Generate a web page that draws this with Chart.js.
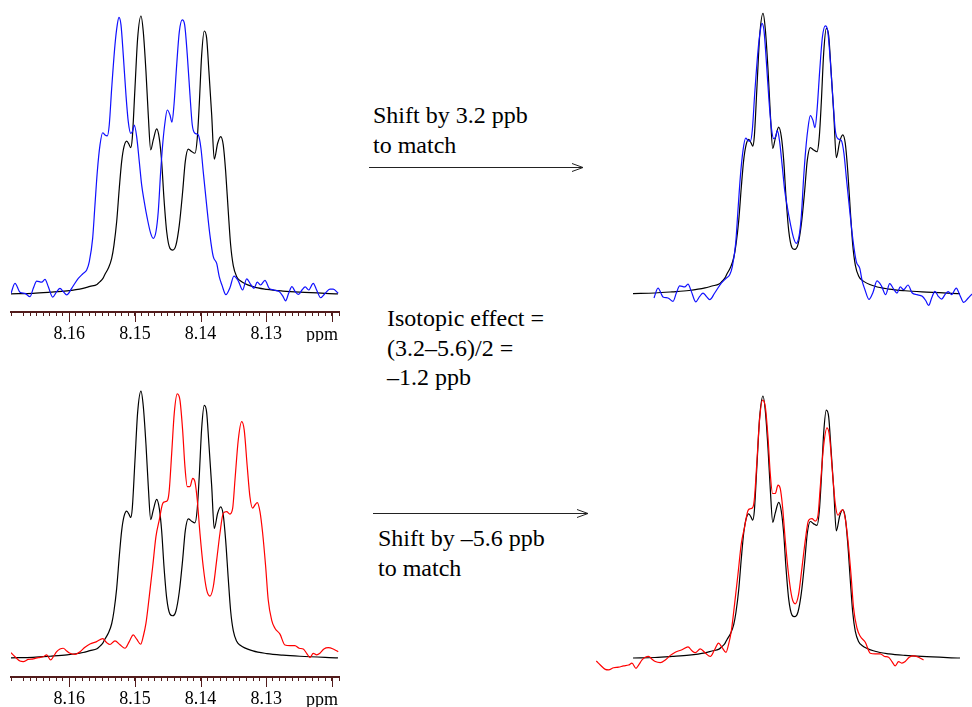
<!DOCTYPE html>
<html>
<head>
<meta charset="utf-8">
<script src="https://cdn.jsdelivr.net/npm/chart.js@4.4.1/dist/chart.umd.min.js"></script>
<style>
  html, body { margin: 0; padding: 0; background: #fff; }
  body { width: 972px; height: 707px; position: relative; overflow: hidden;
         font-family: "Liberation Serif", "Times New Roman", serif; }
  canvas { position: absolute; }
  .note { position: absolute; font-size: 24px; line-height: 29.5px; color: #000; white-space: nowrap; }
  svg { position: absolute; left: 0; top: 0; }
</style>
</head>
<body>

<canvas id="topLeft" width="350" height="342" style="left:0;top:0"></canvas>
<canvas id="bottomLeft" width="350" height="337" style="left:0;top:370px"></canvas>
<canvas id="topRight" width="382" height="310" style="left:590px;top:0"></canvas>
<canvas id="bottomRight" width="382" height="337" style="left:590px;top:370px"></canvas>

<div class="note" style="left:373px;top:101px">Shift by 3.2 ppb<br>to match</div>
<div class="note" style="left:387px;top:304px">Isotopic effect =<br>(3.2–5.6)/2 =<br>–1.2 ppb</div>
<div class="note" style="left:378px;top:524px">Shift by –5.6 ppb<br>to match</div>

<svg width="972" height="707">
  <g stroke="#222" stroke-width="1" fill="none">
    <line x1="369" y1="167.5" x2="583" y2="167.5"/>
    <polyline points="572,163.5 583,167.5 572,171.5"/>
    <line x1="373" y1="513.5" x2="588" y2="513.5"/>
    <polyline points="577,509.5 588,513.5 577,517.5"/>
  </g>
</svg>

<script>
// ---- spectra (ppm, intensity with tallest black peak = 100) ----

// reference spectrum (black)
const blackPpm = [
  8.16890, 8.16555, 8.16296, 8.16036, 8.15792, 8.15686, 8.15579, 8.15533, 8.15488, 8.15457,
  8.15407, 8.15355, 8.15320, 8.15279, 8.15239, 8.15203, 8.15167, 8.15126, 8.15087, 8.15065,
  8.15041, 8.15000, 8.14959, 8.14908, 8.14873, 8.14832, 8.14797, 8.14760, 8.14721, 8.14669,
  8.14629, 8.14593, 8.14558, 8.14516, 8.14466, 8.14425, 8.14375, 8.14324, 8.14273, 8.14233,
  8.14187, 8.14135, 8.14085, 8.14050, 8.14020, 8.13983, 8.13943, 8.13907, 8.13872, 8.13830,
  8.13791, 8.13739, 8.13693, 8.13654, 8.13617, 8.13577, 8.13541, 8.13501, 8.13449, 8.13399,
  8.13201, 8.12988, 8.12744, 8.12485, 8.11905
];
const blackInt = [
  -0.2, 0.0, 0.4, 0.9, 1.8, 2.5, 3.2, 4.2, 5.4, 6.9,
  9.0, 12.6, 17.4, 25.8, 37.9, 47.5, 52.9, 54.9, 53.5, 52.5,
  55.9, 73.9, 92.0, 100, 94.3, 79.9, 64.3, 51.7, 55.3, 59.3,
  55.9, 47.5, 34.3, 22.2, 16.2, 15.6, 17.4, 24.6, 36.6, 47.5,
  52.0, 51.1, 50.5, 55.9, 67.9, 85.9, 94.6, 92.0, 79.9, 64.3,
  48.4, 54.1, 56.5, 53.5, 43.9, 29.4, 17.4, 10.0, 6.0, 4.6,
  2.4, 1.4, 0.8, 0.4, -0.2
];

// upper sample (blue)
const bluePpm = [
  8.16890, 8.16829, 8.16753, 8.16677, 8.16600, 8.16550, 8.16498, 8.16422, 8.16372, 8.16321,
  8.16254, 8.16193, 8.16143, 8.16093, 8.16041, 8.15965, 8.15864, 8.15788, 8.15736, 8.15696,
  8.15645, 8.15610, 8.15574, 8.15533, 8.15492, 8.15457, 8.15422, 8.15392, 8.15355, 8.15305,
  8.15270, 8.15244, 8.15213, 8.15178, 8.15137, 8.15102, 8.15065, 8.15035, 8.15010, 8.14974,
  8.14934, 8.14898, 8.14858, 8.14812, 8.14760, 8.14721, 8.14680, 8.14645, 8.14608, 8.14578,
  8.14547, 8.14507, 8.14466, 8.14436, 8.14405, 8.14364, 8.14324, 8.14279, 8.14242, 8.14202,
  8.14161, 8.14126, 8.14085, 8.14035, 8.13994, 8.13959, 8.13907, 8.13857, 8.13806, 8.13754,
  8.13715, 8.13674, 8.13613, 8.13552, 8.13491, 8.13425, 8.13358, 8.13297, 8.13236, 8.13186,
  8.13135, 8.13084, 8.13018, 8.12953, 8.12881, 8.12800, 8.12748, 8.12703, 8.12657, 8.12607,
  8.12556, 8.12504, 8.12454, 8.12404, 8.12352, 8.12282, 8.12230, 8.12169, 8.12099, 8.12027,
  8.11977, 8.11901
];
const blueInt = [
  0, 3.6, 0.4, 0, -1.2, 1.8, 4.4, 4.0, 5.0, 2.4,
  -1.4, 0.6, 1.8, 0.6, -0.6, 1.8, 5.4, 7.2, 8.4, 11.4,
  19.8, 31.8, 43.9, 53.5, 57.9, 57.1, 56.8, 60.7, 73.9, 89.5,
  96.8, 99.5, 96.8, 85.9, 71.5, 61.9, 57.7, 58.5, 60.7, 56.5,
  47.5, 39.1, 33.0, 27.0, 21.6, 19.8, 22.2, 29.4, 43.9, 53.5,
  60.7, 66.1, 64.3, 61.7, 67.9, 82.3, 94.3, 98.6, 96.8, 85.9,
  71.5, 60.7, 57.7, 57.1, 52.3, 43.9, 31.8, 21.0, 13.2, 10.8,
  6.0, 3.0, -0.5, 2.0, 6.2, 4.5, 1.2, 5.2, 3.2, 1.8,
  4.0, 3.0, 4.7, 1.8, 1.2, 0.6, -0.9, -2.7, 0, 2.4,
  0.6, -0.4, 1.2, 2.3, 1.2, 3.6, 1.2, -1.6, 0, 1.5,
  1.5, 0
];

// lower sample (red)
const redPpm = [
  8.16890, 8.16829, 8.16753, 8.16703, 8.16626, 8.16550, 8.16474, 8.16398, 8.16346, 8.16285,
  8.16245, 8.16193, 8.16143, 8.16093, 8.16041, 8.15991, 8.15914, 8.15838, 8.15762, 8.15686,
  8.15584, 8.15492, 8.15431, 8.15381, 8.15305, 8.15228, 8.15152, 8.15087, 8.15026, 8.14974,
  8.14913, 8.14873, 8.14832, 8.14782, 8.14730, 8.14680, 8.14629, 8.14577, 8.14542, 8.14501,
  8.14477, 8.14440, 8.14401, 8.14355, 8.14314, 8.14273, 8.14238, 8.14202, 8.14161, 8.14120,
  8.14085, 8.14050, 8.14009, 8.13959, 8.13907, 8.13856, 8.13806, 8.13754, 8.13704, 8.13654,
  8.13602, 8.13552, 8.13510, 8.13475, 8.13425, 8.13373, 8.13334, 8.13288, 8.13247, 8.13206,
  8.13170, 8.13135, 8.13094, 8.13053, 8.13007, 8.12968, 8.12916, 8.12866, 8.12789, 8.12713,
  8.12637, 8.12561, 8.12495, 8.12434, 8.12382, 8.12332, 8.12282, 8.12230, 8.12180, 8.12119,
  8.12053, 8.11977, 8.11901
];
const redInt = [
  1.7, 0.2, -1.4, -1.6, -0.8, -0.6, -0.1, 0.2, 0.9, -1.0,
  0.2, 2.1, 3.1, 3.4, 2.4, 1.5, 1.1, 2.1, 3.8, 5.0,
  5.9, 7.0, 5.5, 4.8, 6.2, 4.7, 3.4, 5.9, 8.4, 6.8,
  4.9, 7.9, 12.8, 22.8, 34.0, 45.3, 51.6, 57.8, 58.4, 59.1,
  62.8, 76.6, 91.6, 98.9, 96.6, 85.3, 71.6, 64.1, 64.1, 67.2,
  65.9, 59.1, 46.6, 34.0, 25.3, 23.0, 26.5, 36.5, 46.6, 54.1,
  54.7, 53.8, 56.0, 66.6, 81.6, 88.5, 85.3, 71.6, 60.3, 56.0,
  57.2, 58.1, 54.7, 46.6, 34.0, 21.5, 14.0, 10.9, 8.7, 4.6,
  4.4, 4.4, 3.4, 3.1, 1.5, -0.1, 1.5, 0.9, 1.5, 3.1,
  3.6, 3.1, 2.1
];

// shifts used in the right-hand panels (ppm)
const SHIFT_BLUE = 0.0032;
const SHIFT_RED = -0.0056;

// axis
const tickLabels = ['8.16', '8.15', '8.14', '8.13'];
const majorTicks = [8.16, 8.15, 8.14, 8.13, 8.12];
// note: span is deliberately not a whole number of 0.001 steps, so chart.js
// keeps the minor ticks on round ppm values
const leftRange = { min: 8.11889, max: 8.16890 };
const rightRange = { min: 8.11722, max: 8.17546 };

const AXIS_COLOR = '#521c1c';
const SERIF = 'Liberation Serif';

// ---- helpers ----
function points(ppm, intensity, shift) {
  return ppm.map((p, i) => ({ x: p - shift, y: intensity[i] }));
}

function lineSet(data, color, axis) {
  return {
    data: data,
    borderColor: color,
    borderWidth: 1.2,
    pointRadius: 0,
    fill: false,
    cubicInterpolationMode: 'monotone',
    yAxisID: axis
  };
}

// longer major ticks + the "ppm" unit at the right end of the axis
const axisExtras = {
  id: 'axisExtras',
  afterDraw(chart) {
    const xs = chart.scales.x;
    const ctx = chart.ctx;
    const y0 = chart.chartArea.bottom;
    ctx.save();
    ctx.strokeStyle = AXIS_COLOR;
    ctx.lineWidth = 1;
    majorTicks.forEach(v => {
      const px = Math.round(xs.getPixelForValue(v)) + 0.5;
      ctx.beginPath();
      ctx.moveTo(px, y0);
      ctx.lineTo(px, y0 + 10);
      ctx.stroke();
    });
    ctx.fillStyle = '#000';
    ctx.font = '18px "' + SERIF + '"';
    ctx.textAlign = 'center';
    ctx.textBaseline = 'alphabetic';
    ctx.fillText('ppm', chart.chartArea.right - 17, y0 + 28);
    ctx.restore();
  }
};

const baseOptions = {
  responsive: false,
  animation: false,
  devicePixelRatio: 1,
  plugins: { legend: { display: false }, tooltip: { enabled: false } }
};

// Left panels: the raw spectra on a ppm axis
function leftChart(id, sets, yMin, yMax) {
  new Chart(document.getElementById(id), {
    type: 'line',
    data: { datasets: sets },
    options: Object.assign({}, baseOptions, {
      layout: { padding: { left: 11, right: 11, top: 0, bottom: 0 } },
      scales: {
        x: {
          type: 'linear',
          reverse: true,
          min: leftRange.min,
          max: leftRange.max,
          border: { display: true, color: AXIS_COLOR, width: 2 },
          grid: { drawOnChartArea: false, drawTicks: true, tickLength: 4, color: AXIS_COLOR, lineWidth: 1 },
          ticks: {
            stepSize: 0.001,
            autoSkip: false,
            maxRotation: 0,
            minRotation: 0,
            padding: 7,
            color: '#000',
            font: { family: SERIF, size: 18 },
            callback: v => {
              const t = v.toFixed(2);
              return (Math.abs(v - Number(t)) < 1e-6 && tickLabels.includes(t)) ? t : '';
            }
          },
          afterFit: s => { s.height = 30; }
        },
        y: { display: false, min: yMin, max: yMax }
      }
    }),
    plugins: [axisExtras]
  });
}

// Right panels: reference vs shifted sample, no axis
function rightChart(id, sets, yRange, y2Range) {
  new Chart(document.getElementById(id), {
    type: 'line',
    data: { datasets: sets },
    options: Object.assign({}, baseOptions, {
      layout: { padding: 0 },
      scales: {
        x: { type: 'linear', display: false, reverse: true, min: rightRange.min, max: rightRange.max },
        y: { type: 'linear', axis: 'y', display: false, min: yRange[0], max: yRange[1] },
        y2: { type: 'linear', axis: 'y', display: false, min: y2Range[0], max: y2Range[1] }
      }
    })
  });
}

leftChart('topLeft', [
  lineSet(points(bluePpm, blueInt, 0), '#1010ff', 'y'),
  lineSet(points(blackPpm, blackInt, 0), '#000', 'y')
], -6.74, 105.77);

leftChart('bottomLeft', [
  lineSet(points(redPpm, redInt, 0), '#ff0000', 'y'),
  lineSet(points(blackPpm, blackInt, 0), '#000', 'y')
], -7.40, 107.9);

rightChart('topRight', [
  lineSet(points(bluePpm, blueInt, SHIFT_BLUE), '#1010ff', 'y2'),
  lineSet(points(blackPpm, blackInt, 0), '#000', 'y')
], [-6.08, 104.76], [-4.35, 107.97]);

rightChart('bottomRight', [
  lineSet(points(redPpm, redInt, SHIFT_RED), '#ff0000', 'y2'),
  lineSet(points(blackPpm, blackInt, 0), '#000', 'y')
], [-18.93, 109.94], [-15.42, 110.09]);
</script>
</body>
</html>
